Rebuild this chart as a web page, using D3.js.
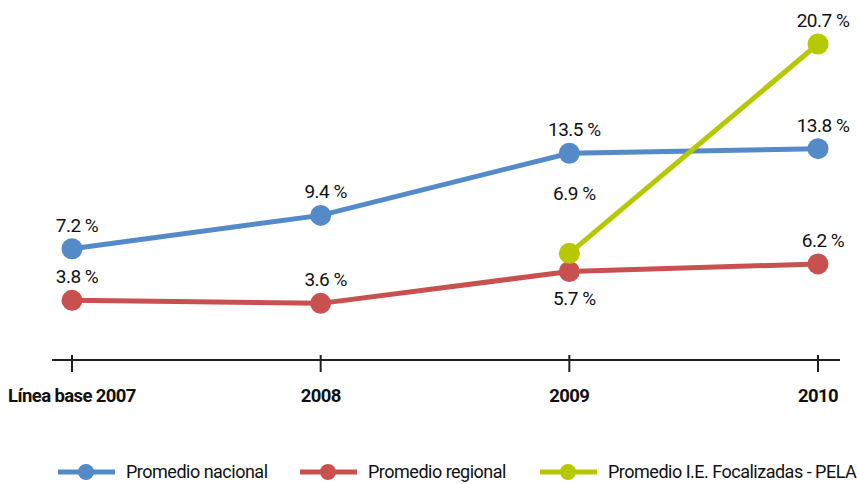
<!DOCTYPE html>
<html>
<head>
<meta charset="utf-8">
<script src="https://cdn.jsdelivr.net/npm/d3@7"></script>
<style>
  body { margin: 0; background: #fff; }
  svg { display: block; font-family: Roboto, "Noto Sans", sans-serif; }
</style>
</head>
<body>
<div id="chart"></div>
<script>
// Data
const categories = ['Línea base 2007', '2008', '2009', '2010'];
const nacional = [7.2, 9.4, 13.5, 13.8];
const regional = [3.8, 3.6, 5.7, 6.2];
const pela = [null, null, 6.9, 20.7];
const seriesNames = ['Promedio nacional', 'Promedio regional', 'Promedio I.E. Focalizadas - PELA'];

const width = 857, height = 484;
const colors = ['#538ac7', '#c85150', '#b5c800'];

const svg = d3.select('#chart').append('svg')
    .attr('width', width)
    .attr('height', height);

const x = d3.scalePoint()
    .domain(categories)
    .range([72, 818]);

const y = d3.scaleLinear()
    .domain([-0.2, 20.7])
    .range([361, 44]);

// X axis
const axis = svg.append('g').attr('transform', 'translate(0,360)');
axis.append('line')
    .attr('x1', 52).attr('x2', 840)
    .attr('stroke', '#231f20').attr('stroke-width', 2);
axis.selectAll('line.tick')
    .data(categories)
    .join('line')
    .attr('class', 'tick')
    .attr('x1', d => x(d)).attr('x2', d => x(d))
    .attr('y1', -5).attr('y2', 12)
    .attr('stroke', '#231f20').attr('stroke-width', 2);
axis.selectAll('text')
    .data(categories)
    .join('text')
    .attr('x', d => x(d))
    .attr('y', 42)
    .attr('text-anchor', 'middle')
    .attr('font-size', 18.5)
    .attr('font-weight', 'bold')
    .attr('letter-spacing', -0.6)
    .attr('fill', '#111')
    .text(d => d);

// label offsets (dy from point), per series
const series = [
    { values: nacional, color: colors[0], dy: [-17, -17, -17, -17] },
    { values: regional, color: colors[1], dy: [-17, -17, 33, -17] },
    { values: pela, color: colors[2], dy: [0, 0, -53, -17] }
];

const line = d3.line()
    .defined(d => d.v != null)
    .x(d => x(d.c))
    .y(d => y(d.v));

series.forEach(s => {
    const pts = categories.map((c, i) => ({ c, v: s.values[i], dy: s.dy[i] }));
    const g = svg.append('g');
    g.append('path')
        .datum(pts)
        .attr('d', line)
        .attr('fill', 'none')
        .attr('stroke', s.color)
        .attr('stroke-width', 5);
    const valid = pts.filter(d => d.v != null);
    g.selectAll('circle')
        .data(valid)
        .join('circle')
        .attr('cx', d => x(d.c))
        .attr('cy', d => y(d.v))
        .attr('r', 10.5)
        .attr('fill', s.color);
    g.selectAll('text')
        .data(valid)
        .join('text')
        .attr('x', d => x(d.c) + 5)
        .attr('y', d => y(d.v) + d.dy)
        .attr('text-anchor', 'middle')
        .attr('font-size', 19)
        .attr('letter-spacing', -0.5)
        .attr('fill', '#111')
        .text(d => d3.format('.1f')(d.v) + ' %');
});

// Legend
const legendX = [58, 300, 540];
const legend = svg.append('g').attr('transform', 'translate(0,472)');
seriesNames.forEach((name, i) => {
    const lg = legend.append('g').attr('transform', `translate(${legendX[i]},0)`);
    lg.append('line')
        .attr('x1', 0).attr('x2', 57)
        .attr('stroke', colors[i]).attr('stroke-width', 5);
    lg.append('circle')
        .attr('cx', 28).attr('r', 8)
        .attr('fill', colors[i]);
    lg.append('text')
        .attr('x', 68).attr('y', 6)
        .attr('font-size', 18)
        .attr('letter-spacing', -0.5)
        .attr('fill', '#111')
        .text(name);
});
</script>
</body>
</html>
